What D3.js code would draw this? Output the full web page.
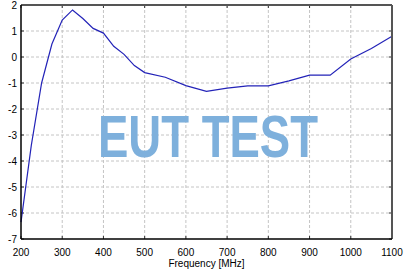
<!DOCTYPE html>
<html>
<head>
<meta charset="utf-8">
<script src="https://cdn.jsdelivr.net/npm/d3@7"></script>
<style>
  body { margin: 0; background: #fff; }
  svg { display: block; font-family: "Liberation Sans", Arial, sans-serif; }
</style>
</head>
<body>
<div id="root"></div>
<script>
const freq = [200, 225, 250, 275, 300, 325, 350, 375, 400, 425, 450, 475, 500,
  550, 600, 650, 700, 750, 800, 850, 900, 950, 1000, 1050, 1100]
const gain = [-6.35, -3.4, -1.0, 0.5, 1.42, 1.81, 1.48, 1.1, 0.92, 0.41, 0.1, -0.33, -0.6,
  -0.78, -1.1, -1.32, -1.2, -1.11, -1.11, -0.92, -0.7, -0.7, -0.08, 0.33, 0.8]
const xTicks = [200, 300, 400, 500, 600, 700, 800, 900, 1000, 1100]
const yTicks = [-7, -6, -5, -4, -3, -2, -1, 0, 1, 2]

const width = 408
const height = 273
const margin = { top: 5, right: 16, bottom: 34, left: 21 }

const svg = d3.select('#root').append('svg')
  .attr('width', width).attr('height', height)

const x = d3.scaleLinear().domain([200, 1100]).range([margin.left, width - margin.right])
const y = d3.scaleLinear().domain([-7, 2]).range([height - margin.bottom, margin.top])

const g = svg.append('g')

// grid
g.selectAll('.gx').data(xTicks.slice(1, -1)).enter().append('line')
  .attr('x1', d => x(d)).attr('x2', d => x(d))
  .attr('y1', y(2)).attr('y2', y(-7))
  .attr('stroke', '#c4c4c4').attr('stroke-dasharray', '3,2')
g.selectAll('.gy').data(yTicks.slice(1, -1)).enter().append('line')
  .attr('x1', x(200)).attr('x2', x(1100))
  .attr('y1', d => y(d)).attr('y2', d => y(d))
  .attr('stroke', '#c4c4c4').attr('stroke-dasharray', '3,2')

// watermark
svg.append('text')
  .attr('x', 98).attr('y', 157)
  .attr('textLength', 220).attr('lengthAdjust', 'spacingAndGlyphs')
  .attr('font-size', 59).attr('font-weight', 'bold')
  .attr('fill', '#7eb0dc')
  .text('EUT TEST')

// inner ticks on all sides
g.selectAll('.tt').data(xTicks).enter().append('line')
  .attr('x1', d => x(d)).attr('x2', d => x(d))
  .attr('y1', y(2)).attr('y2', y(2) + 3).attr('stroke', '#333')
g.selectAll('.tb').data(xTicks).enter().append('line')
  .attr('x1', d => x(d)).attr('x2', d => x(d))
  .attr('y1', y(-7)).attr('y2', y(-7) - 3).attr('stroke', '#333')
g.selectAll('.tr').data(yTicks).enter().append('line')
  .attr('x1', x(1100)).attr('x2', x(1100) - 3)
  .attr('y1', d => y(d)).attr('y2', d => y(d)).attr('stroke', '#333')
g.selectAll('.tl').data(yTicks).enter().append('line')
  .attr('x1', x(200)).attr('x2', x(200) + 3)
  .attr('y1', d => y(d)).attr('y2', d => y(d)).attr('stroke', '#333')

// data line
const line = d3.line().x((d, i) => x(freq[i])).y(d => y(d))
g.append('path')
  .datum(gain)
  .attr('fill', 'none')
  .attr('stroke', '#2323b8')
  .attr('stroke-width', 1.2)
  .attr('d', line)

// frame
g.append('line').attr('x1', x(200)).attr('x2', x(1100)).attr('y1', y(2)).attr('y2', y(2))
  .attr('stroke', '#555').attr('stroke-width', 2)
g.append('line').attr('x1', x(1100)).attr('x2', x(1100)).attr('y1', y(2)).attr('y2', y(-7))
  .attr('stroke', '#555').attr('stroke-width', 2)
g.append('line').attr('x1', x(200)).attr('x2', x(1100)).attr('y1', y(-7)).attr('y2', y(-7))
  .attr('stroke', '#000').attr('stroke-width', 1.5)
g.append('line').attr('x1', x(200)).attr('x2', x(200)).attr('y1', y(2)).attr('y2', y(-7))
  .attr('stroke', '#000').attr('stroke-width', 1.5)

// labels
g.selectAll('.xl').data(xTicks).enter().append('text')
  .attr('x', d => x(d)).attr('y', y(-7) + 17)
  .attr('text-anchor', 'middle').attr('font-size', 10).attr('fill', '#000')
  .text(d => d)
g.selectAll('.yl').data(yTicks).enter().append('text')
  .attr('x', x(200) - 4).attr('y', d => y(d) + 3.5)
  .attr('text-anchor', 'end').attr('font-size', 10).attr('fill', '#000')
  .text(d => d)

svg.append('text')
  .attr('x', (x(200) + x(1100)) / 2).attr('y', 267)
  .attr('text-anchor', 'middle').attr('font-size', 10).attr('fill', '#000')
  .text('Frequency [MHz]')
</script>
</body>
</html>
